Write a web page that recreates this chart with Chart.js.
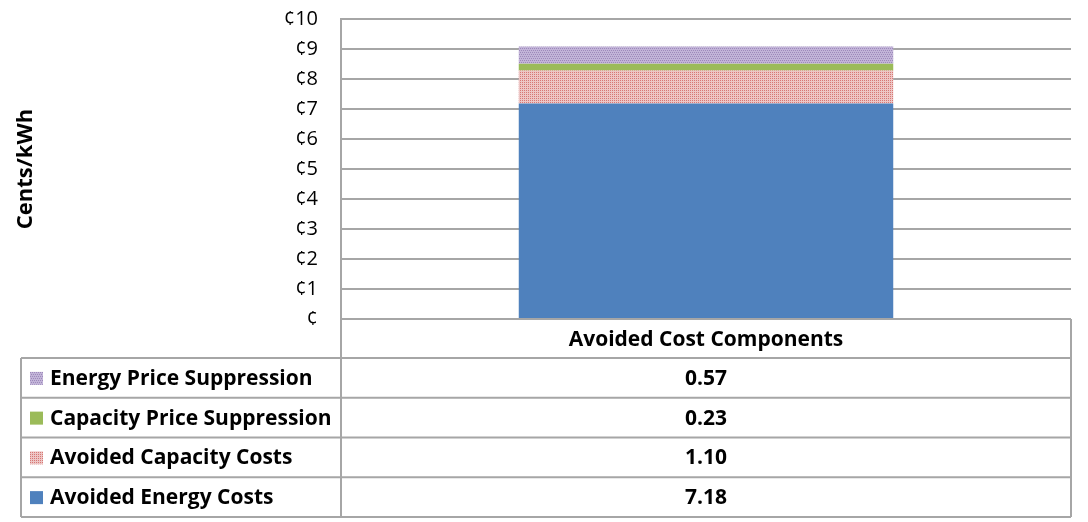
<!DOCTYPE html>
<html>
<head>
<meta charset="utf-8">
<script src="https://cdn.jsdelivr.net/npm/chart.js@4/dist/chart.umd.min.js"></script>
<style>
  html, body { margin: 0; padding: 0; background: #fff; }
  #wrap { width: 1088px; height: 522px; }
</style>
</head>
<body>
<div id="wrap"><canvas id="c" width="1088" height="522"></canvas></div>
<script>
// Category and series data
const categories = ['Avoided Cost Components'];
const seriesNames = [
  'Avoided Energy Costs',
  'Avoided Capacity Costs',
  'Capacity Price Suppression',
  'Energy Price Suppression'
];
const avoidedEnergy = [7.18];
const avoidedCapacity = [1.10];
const capacitySuppression = [0.23];
const energySuppression = [0.57];
const yTicks = [0, 1, 2, 3, 4, 5, 6, 7, 8, 9, 10];

const FONT = '"Open Sans", "Noto Sans", sans-serif';
const GRID = '#a6a6a6';

// Small dotted fill patterns for the speckled segments
function makePattern(bg, fg, cells) {
  const p = document.createElement('canvas');
  p.width = 4; p.height = 4;
  const g = p.getContext('2d');
  g.fillStyle = bg; g.fillRect(0, 0, 4, 4);
  g.fillStyle = fg;
  cells.forEach(([x, y]) => g.fillRect(x, y, 1, 1));
  return g.createPattern(p, 'repeat');
}
const ctx0 = document.getElementById('c').getContext('2d');
const redPattern = makePattern('#edc6c5', '#d77774', [[0, 0], [2, 0], [0, 2], [2, 2]]);
const purplePattern = makePattern('#c2b4d8', '#9d89ba', [[0, 0], [2, 0], [1, 2], [3, 2]]);
const fills = ['#4f81bd', redPattern, '#9bbb59', purplePattern];

// Data table drawn under the plot, aligned to the category scale
const dataTable = {
  id: 'dataTable',
  afterDraw(chart) {
    const { ctx, chartArea, scales } = chart;
    const x = scales.x;
    const left = chartArea.left, right = chartArea.right, top = chartArea.bottom;
    const tableLeft = 21;
    const catRowH = 39;
    const rowH = 39.75;
    const nRows = chart.data.datasets.length;
    const bottom = top + catRowH + rowH * nRows;
    ctx.save();
    ctx.strokeStyle = GRID;
    ctx.lineWidth = 2;
    ctx.beginPath();
    // category row box
    ctx.moveTo(left, top); ctx.lineTo(right, top);
    ctx.moveTo(right, top); ctx.lineTo(right, bottom);
    ctx.moveTo(left, top); ctx.lineTo(left, bottom);
    // series rows
    for (let i = 0; i <= nRows; i++) {
      const y = top + catRowH + rowH * i;
      ctx.moveTo(tableLeft, y); ctx.lineTo(right, y);
    }
    ctx.moveTo(tableLeft, top + catRowH); ctx.lineTo(tableLeft, bottom);
    ctx.stroke();

    ctx.fillStyle = '#000';
    ctx.font = 'bold 21px ' + FONT;
    ctx.textBaseline = 'middle';
    ctx.textAlign = 'center';
    chart.data.labels.forEach((lab, i) => {
      ctx.fillText(lab, x.getPixelForValue(i), top + catRowH / 2 + 2);
    });
    // rows listed top-down in reverse stacking order
    const order = chart.data.datasets.map((d, i) => i).reverse();
    order.forEach((di, r) => {
      const ds = chart.data.datasets[di];
      const cy = top + catRowH + rowH * r + rowH / 2;
      ctx.fillStyle = ds.backgroundColor;
      ctx.fillRect(30, cy - 6, 13, 13);
      ctx.fillStyle = '#000';
      ctx.textAlign = 'left';
      ctx.fillText(ds.label, 50, cy + 1);
      ctx.textAlign = 'center';
      ds.data.forEach((v, i) => {
        ctx.fillText(v.toFixed(2), x.getPixelForValue(i), cy + 1);
      });
    });
    ctx.restore();
  }
};

const seriesValues = [avoidedEnergy, avoidedCapacity, capacitySuppression, energySuppression];

new Chart(ctx0, {
  type: 'bar',
  data: {
    labels: categories,
    datasets: seriesNames.map((name, i) => ({
      label: name,
      data: seriesValues[i],
      backgroundColor: fills[i],
      borderWidth: 0,
      categoryPercentage: 0.513,
      barPercentage: 1
    }))
  },
  options: {
    responsive: false,
    animation: false,
    layout: { padding: { left: 0, right: 17, top: 19, bottom: 203 } },
    plugins: { legend: { display: false }, tooltip: { enabled: false } },
    scales: {
      x: {
        stacked: true,
        display: false
      },
      y: {
        stacked: true,
        min: 0,
        max: 10,
        afterFit(scale) { scale.width = 341; },
        afterBuildTicks(scale) { scale.ticks = yTicks.map(v => ({ value: v })); },
        grid: { color: GRID, lineWidth: 2, drawTicks: true, tickLength: 20, tickColor: 'rgba(0,0,0,0)' },
        border: { color: GRID, width: 2 },
        ticks: {
          padding: 3,
          color: '#000',
          font: { family: FONT, size: 20 },
          callback: v => v === 0 ? '¢' : '¢' + v
        },
        title: {
          display: true,
          text: 'Cents/kWh',
          color: '#000',
          font: { family: FONT, size: 22, weight: 'bold' },
          padding: { top: 13, bottom: 0 }
        }
      }
    }
  },
  plugins: [dataTable]
});
</script>
</body>
</html>
